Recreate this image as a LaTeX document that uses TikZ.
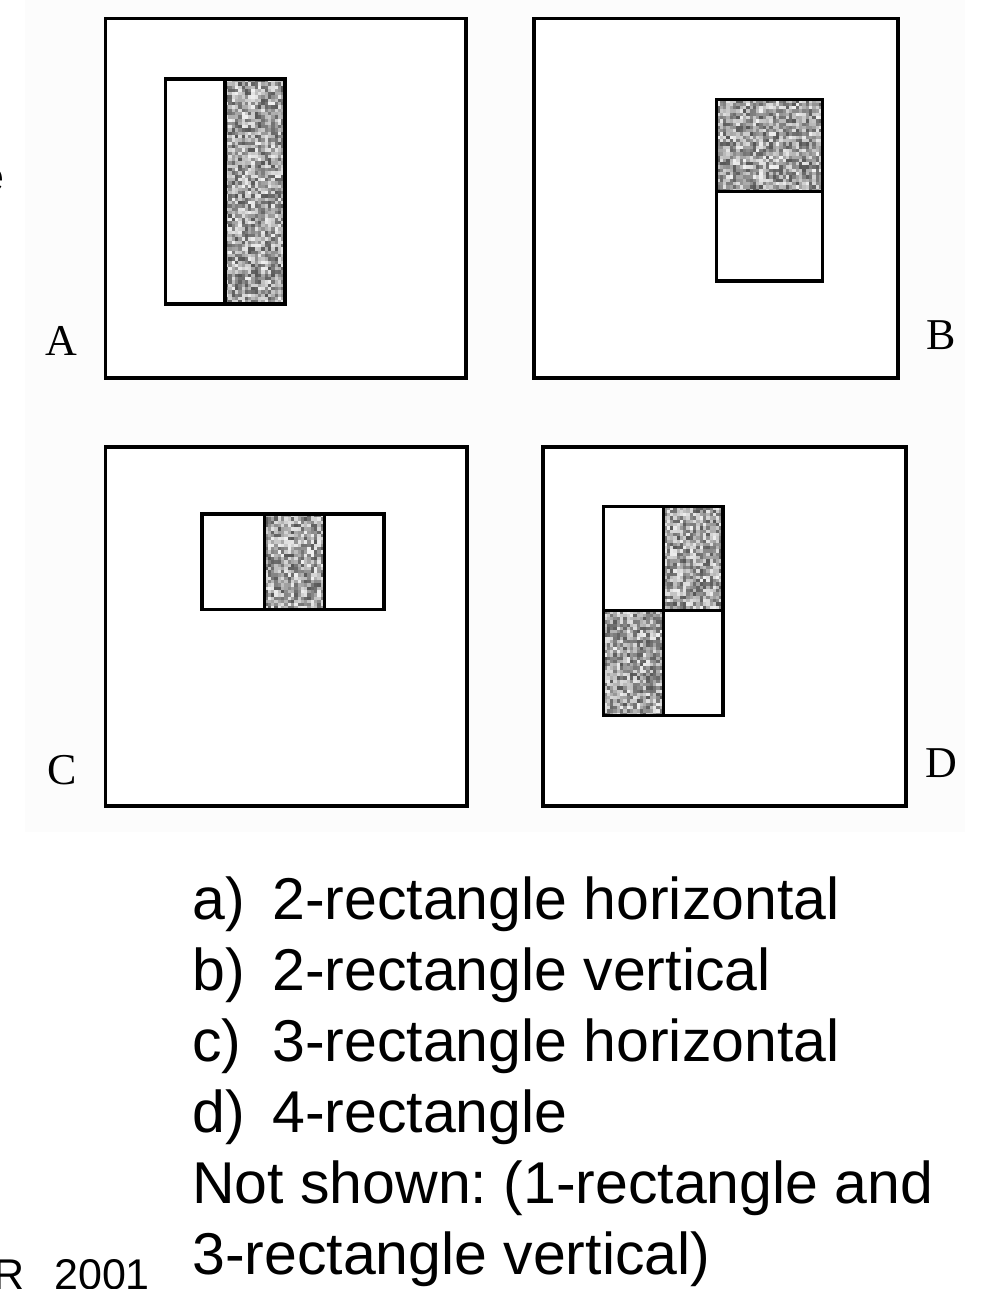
\documentclass[tikz,border=0pt]{standalone}
\usepackage{fontspec}
\setmainfont{Liberation Sans}
\newfontfamily\labelfont{Liberation Serif}
\frenchspacing
\tikzset{
  frame/.style={draw=black, line width=3.6pt, fill=white},
  cell/.style={draw=black, line width=3.6pt},
  panel/.style={font=\labelfont\fontsize{44}{44}\selectfont, anchor=base, inner sep=0pt},
  item/.style={font=\fontsize{59}{59}\selectfont, anchor=base west, inner sep=0pt},
  credit/.style={font=\fontsize{43}{43}\selectfont, anchor=base west, inner sep=0pt},
}
% Dithered grey fill of a rectangle: x1 y1 x2 y2
\newcommand\ditherfill[4]{%
  \begin{scope}
    \clip (#1,#2) rectangle (#3,#4);
    \fill[black!36] (#1,#2) rectangle (#3,#4);
    \pgfmathtruncatemacro\dnx{(#3-#1)/3.3}
    \pgfmathtruncatemacro\dny{(#4-#2)/3.3}
    \foreach \i in {0,...,\dnx}{
      \foreach \j in {0,...,\dny}{
        \pgfmathrandominteger{\g}{6}{66}
        \fill[black!\g] ({#1+\i*3.3},{#2+\j*3.3}) rectangle ++(3.3,3.3);
      }
    }
  \end{scope}
}
\begin{document}
\begin{tikzpicture}[x=1pt, y=-1pt]
\pgfmathsetseed{2001}
\useasboundingbox (0,0) rectangle (1000,1289);
\fill[white] (0,0) rectangle (1000,1289);
\fill[black!1] (25,0) rectangle (965,832);

% panel A: two rectangles side by side
\draw[frame] (105.3,18.7) rectangle (466,378);
\ditherfill{225}{79}{285}{304}
\draw[cell] (165.3,79) rectangle (285,304);
\draw[cell] (225,79) -- (225,304);
\node[panel] (labA) at (61,355) {A};

% panel B: two rectangles stacked
\draw[frame] (534,18.7) rectangle (898,378);
\ditherfill{716.5}{99.5}{822.5}{191.5}
\draw[cell] (716.5,99.5) rectangle (822.5,281);
\draw[cell] (716.5,191.5) -- (822.5,191.5);
\node[panel] (labB) at (941,349) {B};

% panel C: three rectangles side by side
\draw[frame] (105.3,447) rectangle (467,806);
\ditherfill{264.5}{514}{324.5}{609.5}
\draw[cell] (202,514) rectangle (384,609.5);
\draw[cell] (264.5,514) -- (264.5,609.5);
\draw[cell] (324.5,514) -- (324.5,609.5);
\node[panel] (labC) at (62,784) {C};

% panel D: four rectangles in a 2x2 grid
\draw[frame] (543,447) rectangle (906,806);
\ditherfill{663.3}{506.5}{723}{610.3}
\ditherfill{603.5}{610.3}{663.3}{715.5}
\draw[cell] (603.5,506.5) rectangle (723,715.5);
\draw[cell] (663.3,506.5) -- (663.3,715.5);
\draw[cell] (603.5,610.3) -- (723,610.3);
\node[panel] (labD) at (941,777) {D};

% feature list
\node[item] (ia) at (192,919) {a)};
\node[item] (ta) at (272,919) {2-rectangle horizontal};
\node[item] (ib) at (192,990) {b)};
\node[item] (tb) at (272,990) {2-rectangle vertical};
\node[item] (ic) at (192,1061) {c)};
\node[item] (tc) at (272,1061) {3-rectangle horizontal};
\node[item] (id) at (192,1132) {d)};
\node[item] (td) at (272,1132) {4-rectangle};
\node[item] (ns1) at (192,1203) {Not shown: (1-rectangle and};
\node[item] (ns2) at (192,1274) {3-rectangle vertical)};

% fragments at the left edge
\node[credit] (cite) at (-7,1289) {R\hskip 30pt 2001};
\node[credit, anchor=base east] (frag) at (5,192) {e};
\end{tikzpicture}
\end{document}
